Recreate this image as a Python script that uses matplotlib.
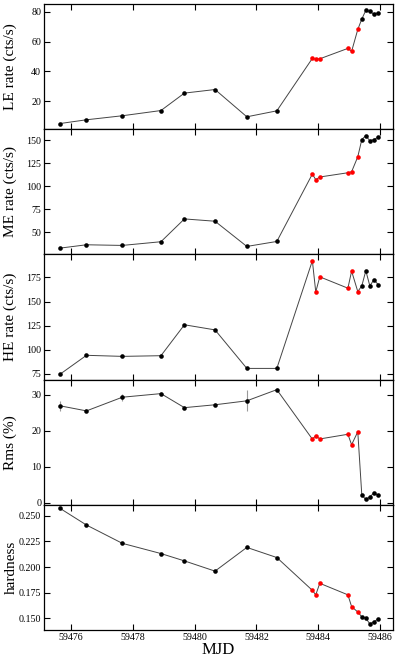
# Multi-panel light curve: LE/ME/HE rates, rms and hardness vs MJD.

import numpy as np
import matplotlib.pyplot as plt

# Observation times (MJD)
mjd = [59475.65, 59476.50, 59477.66, 59478.91, 59479.67, 59480.66, 59481.69, 59482.66,
       59483.81, 59483.92, 59484.05, 59484.96, 59485.08, 59485.28,
       59485.41, 59485.54, 59485.67, 59485.80, 59485.94]

# True for the red points
is_red = [False] * 8 + [True] * 6 + [False] * 5

le_rate = [5.0, 7.5, 10.2, 13.7, 25.4, 27.8, 9.5, 13.5,
           48.7, 48.2, 48.4, 55.4, 53.4, 68.1,
           75.1, 80.9, 80.2, 78.4, 79.3]

me_rate = [33.1, 36.7, 36.0, 40.0, 64.7, 62.2, 34.9, 40.3,
           113.3, 107.2, 110.1, 114.7, 115.8, 132.0,
           150.7, 155.0, 149.3, 150.7, 153.2]

he_rate = [74.7, 94.2, 93.1, 93.8, 125.9, 120.6, 80.6, 80.6,
           192.4, 160.0, 175.7, 163.9, 181.6, 160.4,
           166.3, 182.0, 166.3, 172.6, 167.7]

rms = [26.9, 25.5, 29.3, 30.3, 26.4, 27.2, 28.3, 31.4,
       17.65, 18.6, 17.7, 19.0, 16.1, 19.7,
       2.1, 0.9, 1.6, 2.7, 2.05]
rms_err = [1.4, 0.4, 1.0, 0.4, 0.4, 0.4, 2.9, 0.4,
           0.3, 0.3, 0.3, 0.3, 0.3, 0.3,
           0.2, 0.2, 0.2, 0.2, 0.2]

hardness = [0.2573, 0.2411, 0.2232, 0.2132, 0.2060, 0.1960, 0.2192, 0.2093,
            0.1772, 0.1728, 0.1841, 0.1728, 0.1613, 0.1560,
            0.1513, 0.1500, 0.1444, 0.1464, 0.1493]

ylabels = ["LE rate (cts/s)", "ME rate (cts/s)", "HE rate (cts/s)", "Rms (%)", "hardness"]
ylims = [(1.2, 85.2), (26.3, 161.9), (69.0, 199.0), (-0.6, 34.2), (0.1384, 0.2609)]
yticks = [[20, 40, 60, 80],
          [50, 75, 100, 125, 150],
          [75, 100, 125, 150, 175],
          [0, 10, 20, 30],
          [0.150, 0.175, 0.200, 0.225, 0.250]]

plt.rcParams["font.family"] = ["Liberation Serif", "DejaVu Serif"]

x = np.array(mjd)
red = np.array(is_red)
series = [le_rate, me_rate, he_rate, rms, hardness]

fig, axes = plt.subplots(5, 1, figsize=(3.99, 6.61), dpi=100, sharex=True)
fig.subplots_adjust(left=0.1103, right=0.985, top=0.994, bottom=0.0469, hspace=0)

for i, ax in enumerate(axes):
    y = np.array(series[i])
    ax.plot(x, y, color="#444444", lw=0.7, zorder=2)
    if ylabels[i] == "Rms (%)":
        ax.errorbar(x, y, yerr=rms_err, fmt="none", ecolor="#999999", elinewidth=0.8, zorder=1)
    ax.plot(x[~red], y[~red], "o", color="black", ms=3.3, mew=0, zorder=3)
    ax.plot(x[red], y[red], "o", color="red", ms=3.3, mew=0, zorder=3)

    ax.set_ylim(ylims[i])
    ax.set_yticks(yticks[i])
    if ylabels[i] == "hardness":
        ax.set_yticklabels([f"{v:.3f}" for v in yticks[i]])
    ax.set_ylabel(ylabels[i], fontsize=11)
    ax.yaxis.set_label_coords(-0.076, 0.5)

    ax.tick_params(direction="in", top=True, right=True, length=4, width=0.8,
                   labelsize=7.2, pad=2)
    for sp in ax.spines.values():
        sp.set_linewidth(0.9)

axes[-1].set_xlim(59475.126, 59486.42)
axes[-1].set_xticks([59476, 59478, 59480, 59482, 59484, 59486])
axes[-1].xaxis.set_major_formatter(plt.FormatStrFormatter("%d"))
axes[-1].set_xlabel("MJD", fontsize=12, labelpad=0)

fig.savefig("out.png", dpi=100)
